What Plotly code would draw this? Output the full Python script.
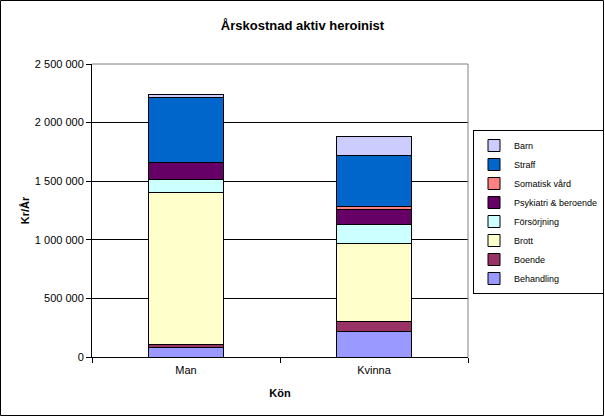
import plotly.graph_objects as go

categories = ["Man", "Kvinna"]
series_names = ["Behandling", "Boende", "Brott", "Försörjning",
                "Psykiatri & beroende", "Somatisk vård", "Straff", "Barn"]
behandling = [83000, 218000]
boende = [27000, 85000]
brott = [1290000, 663000]
forsorjning = [116000, 167000]
psykiatri = [140000, 122000]
somatisk = [5000, 26000]
straff = [553000, 442000]
barn = [22000, 161000]
series_values = [behandling, boende, brott, forsorjning, psykiatri, somatisk, straff, barn]
colors = ["#9999FF", "#993366", "#FFFFCC", "#CCFFFF", "#660066", "#FF8080", "#0066CC", "#CCCCFF"]

y_tickvals = [0, 500000, 1000000, 1500000, 2000000, 2500000]
y_ticktext = ["0", "500 000", "1 000 000", "1 500 000", "2 000 000", "2 500 000"]

FONT = "Liberation Sans, Arial, sans-serif"

fig = go.Figure()
for name, vals, col in zip(series_names, series_values, colors):
    fig.add_trace(go.Bar(
        x=categories, y=vals, name=name,
        marker=dict(color=col, line=dict(color="black", width=1)),
    ))

W, H = 605, 417
L, R, T, B = 92, 137, 64, 60
pw, ph = W - L - R, H - T - B

fig.update_layout(
    width=W, height=H,
    barmode="stack", bargap=0.596,
    margin=dict(l=L, r=R, t=T, b=B, pad=0, autoexpand=False),
    paper_bgcolor="white", plot_bgcolor="white",
    font=dict(family=FONT, size=11, color="black"),
    title=dict(text="<b>Årskostnad aktiv heroinist</b>", x=0.5, xanchor="center",
               y=1 - 25 / H, yanchor="middle", font=dict(size=13, family=FONT)),
    legend=dict(x=(473 - L) / pw, y=(357 - 130) / ph, xanchor="left", yanchor="top",
                traceorder="reversed", bordercolor="black", borderwidth=1,
                font=dict(size=9, family=FONT), bgcolor="white",
                itemwidth=30),
    showlegend=True,
)
fig.update_yaxes(
    range=[0, 2500000], tickvals=y_tickvals, ticktext=y_ticktext,
    showgrid=True, gridcolor="black", gridwidth=1,
    showline=True, linecolor="black", linewidth=1,
    ticks="outside", ticklen=5, tickcolor="black",
    zeroline=False, automargin=False,
    title=dict(text="<b>Kr/År</b>", font=dict(size=11, family=FONT), standoff=3),
)
fig.update_xaxes(
    showline=True, linecolor="black", linewidth=1,
    ticks="outside", ticklen=5, tickcolor="black", tickson="boundaries",
    ticklabelstandoff=3,
    showgrid=False, automargin=False,
    title=dict(text="<b>Kön</b>", font=dict(size=11, family=FONT), standoff=14),
)
# plot area border (grey top and right)
fig.add_shape(type="line", xref="paper", yref="paper", x0=0, x1=1, y0=1, y1=1,
              line=dict(color="#808080", width=1))
fig.add_shape(type="line", xref="paper", yref="paper", x0=1, x1=1, y0=0, y1=1,
              line=dict(color="#808080", width=1))
# outer chart border
fig.add_shape(type="rect", xref="paper", yref="paper",
              x0=(0.5 - L) / pw, x1=(W - 1.5 - L) / pw,
              y0=-(B - 1.5) / ph, y1=1 + (T - 0.5) / ph,
              line=dict(color="black", width=1))

fig.write_html("out.html", config={"displayModeBar": False},
               post_script="document.body.style.margin='0';")
